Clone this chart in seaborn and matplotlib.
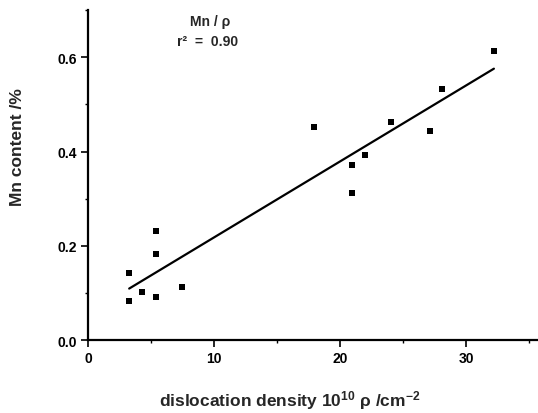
import numpy as np
import pandas as pd
import matplotlib
matplotlib.use("Agg")
import matplotlib.pyplot as plt
from matplotlib.ticker import MultipleLocator
import seaborn as sns

# ── DATA ──────────────────────────────────────────────────
density = [3.25, 4.29, 3.25, 5.37, 5.37, 5.37, 7.44, 17.94,
           20.95, 20.93, 22.0, 24.05, 27.1, 28.1, 32.2]
mn_content = [0.142, 0.102, 0.082, 0.232, 0.182, 0.092, 0.112, 0.452,
              0.372, 0.312, 0.392, 0.462, 0.443, 0.533, 0.613]
df = pd.DataFrame({'density': density, 'mn': mn_content})

# ── STYLE ─────────────────────────────────────────────────
sns.set_style('ticks')
plt.rcParams['font.family'] = ['Liberation Sans', 'DejaVu Sans']
plt.rcParams['font.weight'] = 'bold'
plt.rcParams['mathtext.fontset'] = 'custom'
plt.rcParams['mathtext.rm'] = 'Liberation Sans:bold'
plt.rcParams['mathtext.default'] = 'rm'

fig = plt.figure(figsize=(5.38, 4.14), dpi=100)
ax = fig.add_axes([0.164, 0.176, 0.836, 0.797])

# scatter + least-squares line
sns.regplot(data=df, x='density', y='mn', ci=None, ax=ax,
            marker='s', color='black',
            scatter_kws={'s': 16, 'linewidths': 0, 'alpha': 1},
            line_kws={'linewidth': 1.6})

ax.set_xlim(0, 35.7)
ax.set_ylim(0, 0.70)
ax.xaxis.set_major_locator(MultipleLocator(10))
ax.xaxis.set_minor_locator(MultipleLocator(5))
ax.yaxis.set_major_locator(MultipleLocator(0.2))
ax.yaxis.set_minor_locator(MultipleLocator(0.1))
ax.yaxis.set_major_formatter(plt.FuncFormatter(lambda v, _: f'{v:.1f}'))

for side in ['top', 'right']:
    ax.spines[side].set_visible(False)
for side in ['left', 'bottom']:
    ax.spines[side].set_linewidth(1.6)
    ax.spines[side].set_color('black')

ax.tick_params(which='major', direction='out', length=5, width=1.2,
               labelsize=10, colors='black', pad=3)
ax.tick_params(which='minor', direction='out', length=2.5, width=1.0,
               colors='black')

ax.set_xlabel('dislocation density 10$^{10}$ ρ /cm$^{-2}$',
              fontsize=12.5, fontweight='bold')
ax.set_ylabel('Mn content /%', fontsize=12.5, fontweight='bold')
ax.xaxis.set_label_coords(0.449, -0.145)
ax.yaxis.set_label_coords(-0.141, 0.588)

ax.text(0.27, 0.967, 'Mn / ρ', transform=ax.transAxes,
        ha='center', va='center', fontsize=10, fontweight='bold')
ax.text(0.265, 0.906, 'r²  =  0.90', transform=ax.transAxes,
        ha='center', va='center', fontsize=10, fontweight='bold')

plt.savefig('out.png', dpi=100, facecolor='white')
